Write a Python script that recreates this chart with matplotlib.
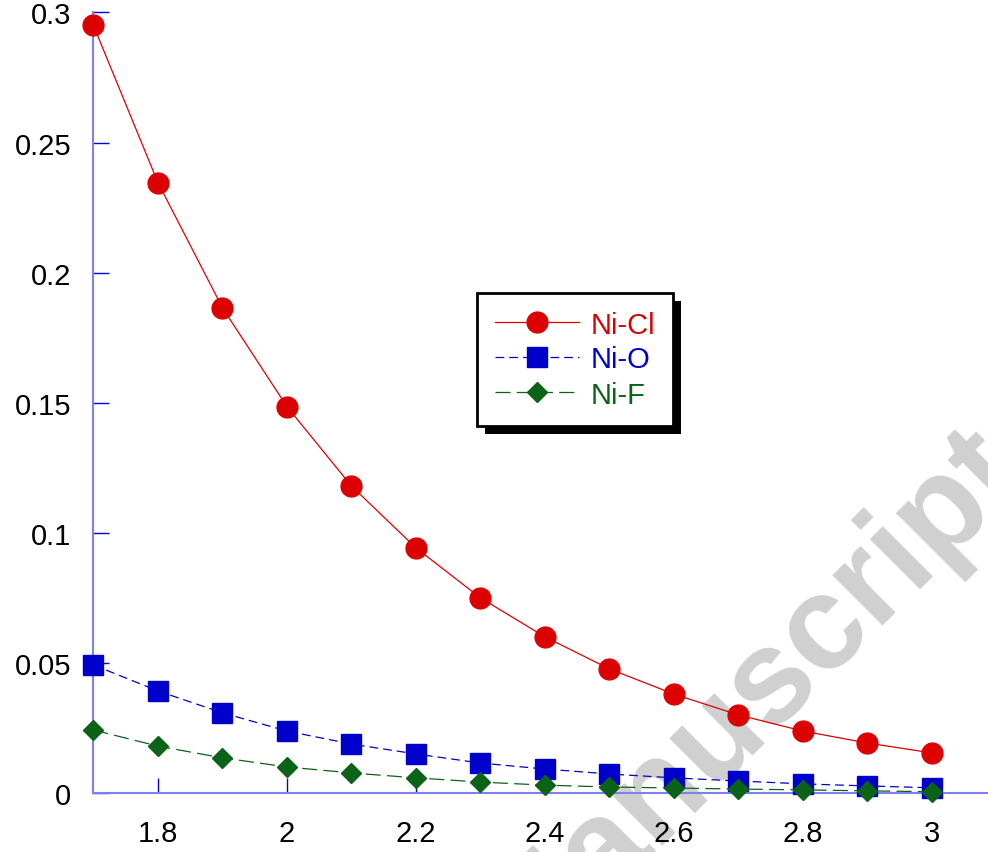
import numpy as np
import matplotlib
matplotlib.use("Agg")
import matplotlib.pyplot as plt
import matplotlib.patheffects as pe

plt.rcParams['font.family'] = ['Liberation Sans', 'DejaVu Sans']

# distances (x) and values
x = [1.7, 1.8, 1.9, 2.0, 2.1, 2.2, 2.3, 2.4, 2.5, 2.6, 2.7, 2.8, 2.9, 3.0]
ni_cl = [0.295, 0.2346, 0.1865, 0.1485, 0.118, 0.0942, 0.075, 0.060,
         0.0477, 0.038, 0.030, 0.0238, 0.0192, 0.0154]
ni_o = [0.0492, 0.0392, 0.0308, 0.0238, 0.0188, 0.0150, 0.0115, 0.0092,
        0.0073, 0.0058, 0.0046, 0.0035, 0.0027, 0.0020]
ni_f = [0.0242, 0.0180, 0.0135, 0.0100, 0.0077, 0.0058, 0.0042, 0.0030,
        0.0023, 0.0019, 0.0015, 0.0012, 0.0008, 0.0005]

xticks = [1.8, 2.0, 2.2, 2.4, 2.6, 2.8, 3.0]
xtick_labels = ['1.8', '2', '2.2', '2.4', '2.6', '2.8', '3']
yticks = [0, 0.05, 0.1, 0.15, 0.2, 0.25, 0.3]
ytick_labels = ['0', '0.05', '0.1', '0.15', '0.2', '0.25', '0.3']

fig = plt.figure(figsize=(9.88, 8.53), dpi=100)
ax = fig.add_axes([0.0946, 0.0692, 0.9054, 0.915])
ax.patch.set_visible(False)

# watermark behind everything (cut off at the edges like in the original)
fig.text(750 / 988, 1 - 700 / 853, 'Manuscript', rotation=45, rotation_mode='anchor',
         ha='center', va='center', fontsize=96, fontweight='bold', color='#d0d0d0', zorder=-5)

ax.plot(x, ni_cl, color='#e00000', lw=0.9, marker='o', ms=15, mfc='#dd0000', mec='#dd0000',
        label='Ni-Cl', clip_on=False, zorder=5)
ax.plot(x, ni_o, color='#0000cc', lw=0.9, dashes=(7, 4), marker='s', ms=15, mfc='#0000cc',
        mec='#0000cc', label='Ni-O', clip_on=False, zorder=4)
ax.plot(x, ni_f, color='#0b6318', lw=0.9, dashes=(12, 5), marker='D', ms=10.5, mfc='#0b6318',
        mec='#0b6318', label='Ni-F', clip_on=False, zorder=6)

ax.set_xlim(1.7, 3.087)
ax.set_ylim(0, 0.3)
ax.set_xticks(xticks)
ax.set_xticklabels(xtick_labels)
ax.set_yticks(yticks)
ax.set_yticklabels(ytick_labels)
ax.tick_params(axis='both', direction='in', color='#0000e0', width=1, labelsize=21)
ax.tick_params(axis='x', length=11, pad=19)
ax.tick_params(axis='y', length=11.5, pad=16)

for s in ['top', 'right']:
    ax.spines[s].set_visible(False)
for s in ['left', 'bottom']:
    ax.spines[s].set_color('#7f7ff0')
    ax.spines[s].set_linewidth(1.5)

leg = ax.legend(loc='upper left', bbox_to_anchor=(477 / 988, 1 - 294 / 853),
                bbox_transform=fig.transFigure, fontsize=21, frameon=True, fancybox=False,
                framealpha=1, edgecolor='black', borderpad=0.6, handlelength=2.9,
                handletextpad=0.4, labelspacing=0.24, borderaxespad=0)
leg.get_frame().set_linewidth(2)
leg.get_frame().set_path_effects([
    pe.SimplePatchShadow(offset=(6, -6), shadow_rgbFace='black', alpha=1), pe.Normal()])
for t, c in zip(leg.get_texts(), ['#dd0000', '#0000cc', '#0b6318']):
    t.set_color(c)

fig.savefig('out.png', dpi=100)
